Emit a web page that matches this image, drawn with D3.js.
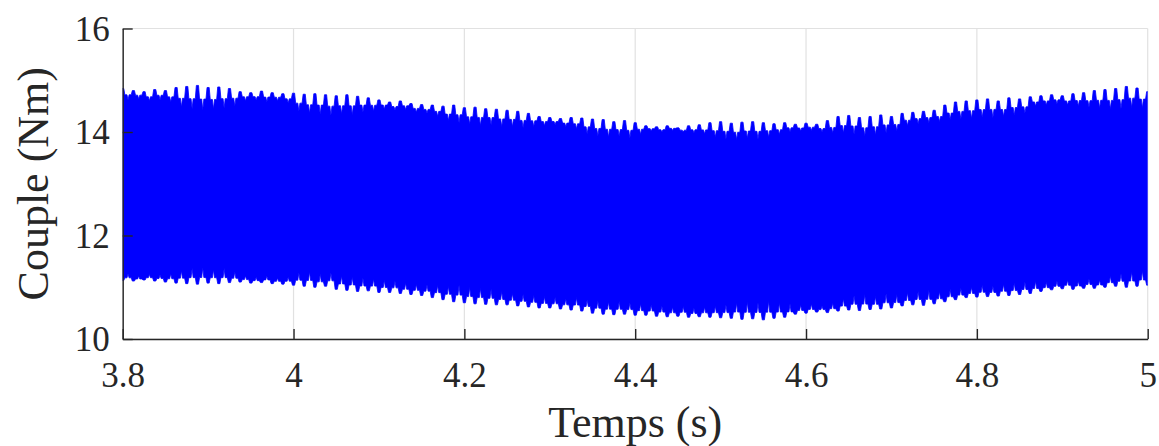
<!DOCTYPE html>
<html><head><meta charset="utf-8">
<script src="https://cdn.jsdelivr.net/npm/d3@7"></script>
<style>body{margin:0;background:#fff} svg{display:block}</style>
</head><body>
<svg id="chart" width="1159" height="446"></svg>
<script>
// ---- data ----
const xTicks = [3.8, 4, 4.2, 4.4, 4.6, 4.8, 5];
const xTickLabels = ["3.8", "4", "4.2", "4.4", "4.6", "4.8", "5"];
const yTicks = [10, 12, 14, 16];
const yTickLabels = ["10", "12", "14", "16"];
const xLabel = "Temps (s)";
const yLabel = "Couple (Nm)";
const tStart = 3.8;          // s, first ripple tooth
const toothPeriod = 0.0125;  // s, spacing of the ripple teeth
// upper envelope of the torque: tooth maxima and notch minima (Nm)
const upperPeak = [14.84,14.80,14.78,14.82,14.80, 14.86,14.88,14.90,14.86,14.87,14.84,
  14.78,14.76,14.79,14.76,14.74, 14.75,14.73,14.74,14.72,14.70,14.72,14.69,14.66,
  14.62,14.58,14.60,14.55,14.53,14.52, 14.50,14.52,14.47,14.48,14.45,14.44,14.42,
  14.40,14.36, 14.30,14.28,14.26,14.28, 14.27,14.25,14.24,14.20,14.22,14.18,
  14.12,14.10,14.12,14.08,14.12,14.14, 14.18,14.20,14.17,14.19,14.20,14.18,14.16,
  14.18,14.15,14.17,14.15,14.22, 14.30,14.32,14.28,14.30,14.33,14.30,
  14.36,14.38,14.40,14.42, 14.52,14.58,14.60,14.62,14.64,14.60,14.66,14.64,
  14.68,14.70,14.72,14.70,14.74, 14.76,14.80,14.82,14.84,14.88,14.85,14.78];
const upperValley = [14.62,14.64,14.60,14.62,14.58, 14.48,14.45,14.42,14.44,14.46,14.50,
  14.60,14.62,14.58,14.60,14.56, 14.40,14.36,14.34,14.32,14.35,14.33,14.38,14.40,
  14.44,14.42,14.43,14.38,14.36,14.30, 14.22,14.18,14.15,14.12,14.14,14.10,14.10,
  14.08,14.10, 14.12,14.14,14.10,14.06, 13.96,13.92,13.90,13.92,13.88,13.95,
  14.02,14.00,14.03,14.00,13.98,13.96, 13.90,13.86,13.85,13.88,13.86,13.90,13.95,
  14.00,14.02,14.03,14.00,13.98, 13.98,13.95,13.92,13.94,13.98,14.02,
  14.12,14.16,14.18,14.20, 14.24,14.25,14.26,14.28,14.27,14.30,14.32,14.36,
  14.50,14.52,14.54,14.52,14.50, 14.48,14.46,14.44,14.45,14.47,14.46,14.45];
// lower envelope of the torque: notch maxima and tooth minima (Nm)
const lowerTip = [11.26,11.22,11.25,11.24,11.26, 11.32,11.36,11.38,11.34,11.36,11.30,
  11.22,11.20,11.22,11.18,11.20, 11.28,11.30,11.26,11.28,
  11.22,11.20,11.18,11.16,11.14,11.12, 11.08,11.06,11.05,11.04,
  11.02,11.04,11.00,10.98,10.96,10.92,10.88, 10.86,10.84,
  10.82,10.80,10.78,10.80,10.76, 10.74,10.72,10.73,10.70,10.68,
  10.66,10.64,10.62,10.63,10.60,10.62,10.64,10.66, 10.70,10.72,10.70,10.74,10.70,10.68,
  10.66,10.68,10.64,10.70,10.78, 10.84,10.86,10.82,10.88,10.86,
  10.90,10.92,10.94,10.92,10.96,10.98, 11.00,11.04,11.02,11.06,
  11.08,11.10,11.12,11.10,11.12, 11.14,11.12,11.16,11.14, 11.22,11.26,11.30,11.32,11.28];
const lowerMin = [11.13,11.12,11.14,11.12,11.10, 11.08,11.07,11.06,11.08,11.07,11.09,
  11.10,11.08,11.09,11.07,11.06, 11.04,11.02,11.00,11.02,
  10.96,10.94,10.92,10.93,10.90,10.90, 10.88,10.86,10.84,10.80,
  10.76,10.72,10.70,10.68,10.67,10.66,10.66, 10.64,10.62,
  10.60,10.60,10.58,10.56,10.54, 10.50,10.48,10.47,10.48,10.46,
  10.46,10.44,10.43,10.44,10.42,10.43,10.42,10.41, 10.40,10.38,10.39,10.37,10.40,10.42,
  10.48,10.50,10.52,10.51,10.54, 10.56,10.55,10.57,10.58,10.60,
  10.64,10.66,10.65,10.68,10.72,10.76, 10.80,10.81,10.82,10.83,
  10.84,10.86,10.88,10.92,10.95, 10.97,10.96,10.98,10.98, 11.00,11.02,11.00,11.02,11.04];

// ---- layout ----
const FONT = "'Liberation Serif', 'Times New Roman', serif";
const AX = "#262626", GRID = "#e1e1e1", BLUE = "#0000ff";
const m = {left: 122.7, right: 1147.7, top: 28.5, bottom: 339};
const svg = d3.select("#chart");
const x = d3.scaleLinear().domain([3.8, 5]).range([m.left, m.right]);
const y = d3.scaleLinear().domain([10, 16]).range([m.bottom, m.top]);

// grid
const g = svg.append("g");
g.selectAll(".vg").data(xTicks).join("line")
  .attr("x1", d => x(d)).attr("x2", d => x(d))
  .attr("y1", y(16)).attr("y2", y(10))
  .attr("stroke", GRID).attr("stroke-width", 1.2);
g.selectAll(".hg").data(yTicks).join("line")
  .attr("x1", x(3.8)).attr("x2", x(5))
  .attr("y1", d => y(d)).attr("y2", d => y(d))
  .attr("stroke", GRID).attr("stroke-width", 1.2);

// band (signal envelope with ripple teeth)
svg.append("clipPath").attr("id", "clip").append("rect")
  .attr("x", m.left).attr("y", m.top).attr("width", m.right - m.left).attr("height", m.bottom - m.top);
const p = toothPeriod;
const times = upperPeak.map((_, i) => tStart + i * p);
const upperPts = [], lowerPts = [];
times.forEach((t, i) => {
  const pk = upperPeak[i], vl = upperValley[i];
  const um = vl + 0.45 * (pk - vl);
  upperPts.push([t - 0.1 * p, pk], [t + 0.1 * p, pk], [t + 0.2 * p, um], [t + 0.4 * p, um],
                [t + 0.5 * p, vl], [t + 0.6 * p, um], [t + 0.8 * p, um]);
  const mn = lowerMin[i], tp = lowerTip[i];
  const lm = mn + 0.4 * (tp - mn);
  lowerPts.push([t - 0.1 * p, mn], [t + 0.1 * p, mn], [t + 0.2 * p, lm], [t + 0.4 * p, lm],
                [t + 0.5 * p, tp], [t + 0.6 * p, lm], [t + 0.8 * p, lm]);
});
const poly = upperPts.concat(lowerPts.slice().reverse());
svg.append("path")
  .attr("clip-path", "url(#clip)")
  .attr("d", d3.line().x(d => x(d[0])).y(d => y(d[1]))(poly) + "Z")
  .attr("fill", BLUE).attr("stroke", BLUE).attr("stroke-width", 0.8);

// axes
const xAxis = svg.append("g").attr("transform", `translate(0,${m.bottom})`)
  .call(d3.axisBottom(x).tickValues(xTicks).tickFormat((d, i) => xTickLabels[i])
    .tickSizeInner(-10).tickSizeOuter(0));
const yAxis = svg.append("g").attr("transform", `translate(${m.left},0)`)
  .call(d3.axisLeft(y).tickValues(yTicks).tickFormat((d, i) => yTickLabels[i])
    .tickSizeInner(-10).tickSizeOuter(0));
[xAxis, yAxis].forEach(a => {
  a.select(".domain").attr("stroke", AX).attr("stroke-width", 1.4);
  a.selectAll(".tick line").attr("stroke", AX).attr("stroke-width", 1.4);
  a.selectAll("text").attr("fill", AX).style("font-family", FONT).style("font-size", "35px");
});
xAxis.selectAll("text").attr("y", 48).attr("dy", 0);
yAxis.selectAll("text").attr("x", -13).attr("dy", "0.33em");

svg.append("text").text(xLabel)
  .attr("x", (m.left + m.right) / 2).attr("y", 437)
  .attr("text-anchor", "middle").attr("fill", AX)
  .style("font-family", FONT).style("font-size", "44px");
svg.append("text").text(yLabel)
  .attr("transform", `translate(48,${(m.top + m.bottom) / 2}) rotate(-90)`)
  .attr("text-anchor", "middle").attr("fill", AX)
  .style("font-family", FONT).style("font-size", "44px");
</script>
</body></html>
